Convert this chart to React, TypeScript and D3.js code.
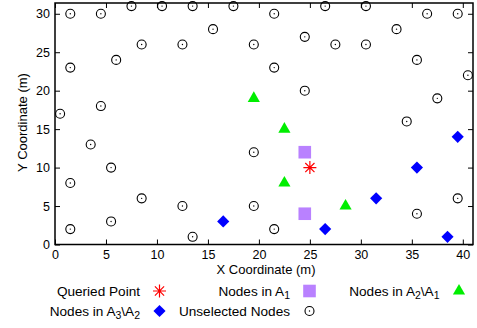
import React, { useEffect, useRef } from 'react';
import * as d3 from 'd3';

// node positions, [x, y] in metres
const unselected: [number, number][] = [
  [1.5, 30], [4.5, 30], [7.5, 31], [10.5, 31], [13.5, 31], [17.5, 31], [15.5, 28],
  [8.5, 26], [12.5, 26], [6, 24], [1.5, 23], [4.5, 18], [0.5, 17],
  [21.5, 30], [26.5, 31], [30.5, 31], [36.5, 30], [39.5, 30], [33.5, 28],
  [19.5, 26], [24.5, 27], [27.5, 26], [30.5, 26], [21.5, 23], [35.5, 24],
  [40.5, 22], [24.5, 20], [37.5, 19], [34.5, 16],
  [3.5, 13], [5.5, 10], [1.5, 8], [8.5, 6], [12.5, 5], [5.5, 3], [1.5, 2], [13.5, 1],
  [19.5, 12], [39.5, 6], [19.5, 5], [35.5, 4], [21.5, 2],
];
const inA1: [number, number][] = [[24.5, 12], [24.5, 4]];
const inA2: [number, number][] = [[19.5, 19], [22.5, 15], [22.5, 8], [28.5, 5]];
const inA3: [number, number][] = [[16.5, 3], [39.5, 14], [35.5, 10], [31.5, 6], [26.5, 2], [38.5, 1]];
const queried: [number, number][] = [[25, 10]];

const xTicks = [0, 5, 10, 15, 20, 25, 30, 35, 40];
const yTicks = [0, 5, 10, 15, 20, 25, 30];

const FONT = '"Liberation Sans", Arial, Helvetica, sans-serif';

function App() {
  const ref = useRef<SVGSVGElement>(null);

  useEffect(() => {
    const width = 477;
    const height = 328;
    const plot = { left: 55, right: 473, top: 3, bottom: 244.5 };

    const svg = d3.select(ref.current);
    svg.selectAll('*').remove();

    const x = d3.scaleLinear().domain([0, 41]).range([plot.left, plot.right]);
    const y = d3.scaleLinear().domain([0, 31.4]).range([plot.bottom, plot.top]);

    // axes with inward ticks, mirrored top/right
    const bottom = svg.append('g')
      .attr('transform', `translate(0,${plot.bottom})`)
      .call(d3.axisBottom(x).tickValues(xTicks).tickSize(-5).tickPadding(6));
    const left = svg.append('g')
      .attr('transform', `translate(${plot.left},0)`)
      .call(d3.axisLeft(y).tickValues(yTicks).tickSize(-5).tickPadding(5));
    const top = svg.append('g')
      .attr('transform', `translate(0,${plot.top})`)
      .call(d3.axisTop(x).tickValues(xTicks).tickSize(-5).tickFormat(() => ''));
    const right = svg.append('g')
      .attr('transform', `translate(${plot.right},0)`)
      .call(d3.axisRight(y).tickValues(yTicks).tickSize(-5).tickFormat(() => ''));

    [bottom, left, top, right].forEach(g => {
      g.select('.domain').remove();
      g.selectAll('line').attr('stroke', '#000').attr('stroke-width', 1);
      g.selectAll('text').attr('font-family', FONT).attr('font-size', 12.5).attr('fill', '#000');
    });

    svg.append('rect')
      .attr('x', plot.left).attr('y', plot.top)
      .attr('width', plot.right - plot.left).attr('height', plot.bottom - plot.top)
      .attr('fill', 'none').attr('stroke', '#000').attr('stroke-width', 1.5);

    svg.append('text')
      .attr('x', (plot.left + plot.right) / 2 + 2).attr('y', 273.5)
      .attr('text-anchor', 'middle')
      .attr('font-family', FONT).attr('font-size', 13)
      .text('X Coordinate (m)');

    svg.append('text')
      .attr('transform', 'translate(26.5,122.5) rotate(-90)')
      .attr('text-anchor', 'middle')
      .attr('font-family', FONT).attr('font-size', 13)
      .text('Y Coordinate (m)');

    // marker drawers
    const circle = (g: any, px: number, py: number) => {
      g.append('circle').attr('cx', px).attr('cy', py).attr('r', 4.5)
        .attr('fill', 'none').attr('stroke', '#000').attr('stroke-width', 1.1);
      g.append('circle').attr('cx', px).attr('cy', py).attr('r', 0.7).attr('fill', '#000');
    };
    const square = (g: any, px: number, py: number) => {
      g.append('rect').attr('x', px - 6.3).attr('y', py - 6.3)
        .attr('width', 12.6).attr('height', 12.6).attr('fill', '#b981ff');
    };
    const triangle = (g: any, px: number, py: number) => {
      g.append('path')
        .attr('d', d3.symbol().type(d3.symbolTriangle).size(64)())
        .attr('transform', `translate(${px},${py})`)
        .attr('fill', '#00ee00');
    };
    const diamond = (g: any, px: number, py: number) => {
      g.append('path')
        .attr('d', d3.symbol().type(d3.symbolSquare).size(74)())
        .attr('transform', `translate(${px},${py}) rotate(45)`)
        .attr('fill', '#0000ff');
    };
    const asterisk = (g: any, px: number, py: number) => {
      const r = 6.5;
      const d = [0, 45, 90, 135].map(a => {
        const dx = r * Math.cos(a * Math.PI / 180);
        const dy = r * Math.sin(a * Math.PI / 180);
        return `M${px - dx},${py - dy}L${px + dx},${py + dy}`;
      }).join('');
      g.append('path').attr('d', d).attr('stroke', '#ff0000').attr('stroke-width', 1.2).attr('fill', 'none');
    };

    const marks = svg.append('g');
    unselected.forEach(p => circle(marks, x(p[0]), y(p[1])));
    inA1.forEach(p => square(marks, x(p[0]), y(p[1])));
    inA2.forEach(p => triangle(marks, x(p[0]), y(p[1])));
    inA3.forEach(p => diamond(marks, x(p[0]), y(p[1])));
    queried.forEach(p => asterisk(marks, x(p[0]), y(p[1])));

    // legend, two rows
    const legend = svg.append('g');
    const items = [
      { label: ['Queried Point'], draw: asterisk, mx: 159.5, row: 0 },
      { label: ['Nodes in A', '1'], draw: square, mx: 309.5, row: 0 },
      { label: ['Nodes in A', '2', '\\A', '1'], draw: triangle, mx: 459, row: 0 },
      { label: ['Nodes in A', '3', '\\A', '2'], draw: diamond, mx: 159.5, row: 1 },
      { label: ['Unselected Nodes'], draw: circle, mx: 309.5, row: 1 },
    ];
    items.forEach(it => {
      const cy = 291 + it.row * 20;
      const t = legend.append('text')
        .attr('x', it.mx - 19.5).attr('y', cy + 4.5)
        .attr('text-anchor', 'end')
        .attr('font-family', FONT).attr('font-size', 13.6);
      it.label.forEach((s, i) => {
        const sub = i % 2 === 1;
        t.append('tspan')
          .attr('font-size', sub ? 10.5 : 13.6)
          .attr('dy', i === 0 ? 0 : (sub ? 3.5 : -3.5))
          .text(s);
      });
      it.draw(legend, it.mx, cy);
    });

    svg.attr('width', width).attr('height', height);
  }, []);

  return (
    <svg ref={ref} width={477} height={328}
      style={{ position: 'absolute', left: 0, top: 0, background: '#fff' }} />
  );
}

export default App;
